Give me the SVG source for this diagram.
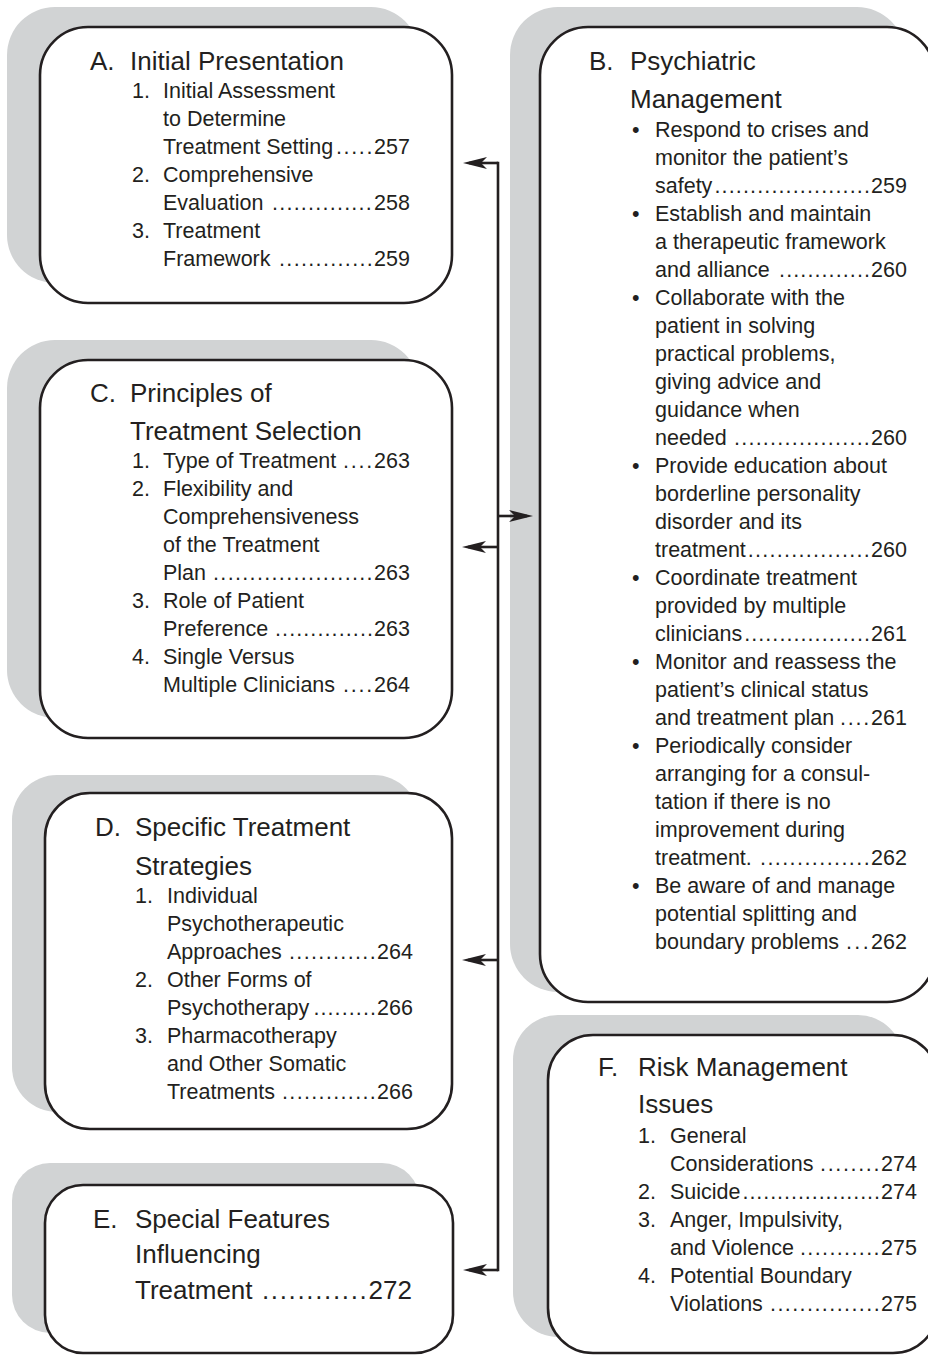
<svg xmlns="http://www.w3.org/2000/svg" width="928" height="1355" viewBox="0 0 928 1355">
<style>
.sh{fill:#d1d3d4}
.bx{fill:#ffffff;stroke:#231f20;stroke-width:2.6}
text{font-family:"Liberation Sans",Arial,sans-serif;fill:#231f20}
.h{font-size:26px}
.i{font-size:21.5px}
.d{letter-spacing:1.1px}
.de{letter-spacing:1.27px}
.cn{fill:none;stroke:#231f20;stroke-width:2.6}
</style>
<defs>
<marker id="ah" viewBox="0 0 24 12" refX="18" refY="6" markerWidth="24" markerHeight="12" markerUnits="userSpaceOnUse" orient="auto">
<path d="M0,0 L24,6 L0,12 L6,6 Z" fill="#231f20"/>
</marker>
</defs>
<rect width="928" height="1355" fill="#ffffff"/>

<g id="nodeA">
<rect class="sh" x="7" y="7" width="412" height="276" rx="48"/>
<rect class="bx" x="40" y="27" width="412" height="276" rx="48"/>
<text class="h" x="90" y="70">A.</text>
<text class="h" x="130" y="70">Initial Presentation</text>
<text class="i" x="132" y="98">1.</text>
<text class="i" x="163" y="98">Initial Assessment</text>
<text class="i" x="163" y="126">to Determine</text>
<text class="i" y="154"><tspan x="163">Treatment Setting</tspan><tspan class="d" x="335.9" style="letter-spacing:1.66px">.....</tspan><tspan x="374.1">257</tspan></text>
<text class="i" x="132" y="182">2.</text>
<text class="i" x="163" y="182">Comprehensive</text>
<text class="i" y="210"><tspan x="163">Evaluation</tspan><tspan class="d" x="272" style="letter-spacing:1.24px">..............</tspan><tspan x="374.1">258</tspan></text>
<text class="i" x="132" y="238">3.</text>
<text class="i" x="163" y="238">Treatment</text>
<text class="i" y="266"><tspan x="163">Framework</tspan><tspan class="d" x="279" style="letter-spacing:1.34px">.............</tspan><tspan x="374.1">259</tspan></text>
</g>

<g id="nodeB">
<rect class="sh" x="510" y="7" width="395" height="985" rx="48"/>
<rect class="bx" x="540" y="27" width="395" height="975" rx="48"/>
<text class="h" x="589" y="70">B.</text>
<text class="h" x="630" y="70">Psychiatric</text>
<text class="h" x="630" y="108">Management</text>
<text class="i" x="632" y="137">•</text>
<text class="i" x="655" y="137">Respond to crises and</text>
<text class="i" x="655" y="165">monitor the patient’s</text>
<text class="i" y="193"><tspan x="655">safety</tspan><tspan class="d" x="714.4" style="letter-spacing:1.15px">......................</tspan><tspan x="871.1">259</tspan></text>
<text class="i" x="632" y="221">•</text>
<text class="i" x="655" y="221">Establish and maintain</text>
<text class="i" x="655" y="249">a therapeutic framework</text>
<text class="i" y="277"><tspan x="655">and alliance</tspan><tspan class="d" x="779.1">.............</tspan><tspan x="871.1">260</tspan></text>
<text class="i" x="632" y="305">•</text>
<text class="i" x="655" y="305">Collaborate with the</text>
<text class="i" x="655" y="333">patient in solving</text>
<text class="i" x="655" y="361">practical problems,</text>
<text class="i" x="655" y="389">giving advice and</text>
<text class="i" x="655" y="417">guidance when</text>
<text class="i" y="445"><tspan x="655">needed</tspan><tspan class="d" x="734" style="letter-spacing:1.24px">...................</tspan><tspan x="871.1">260</tspan></text>
<text class="i" x="632" y="473">•</text>
<text class="i" x="655" y="473">Provide education about</text>
<text class="i" x="655" y="501">borderline personality</text>
<text class="i" x="655" y="529">disorder and its</text>
<text class="i" y="557"><tspan x="655">treatment</tspan><tspan class="d" x="747.8" style="letter-spacing:1.28px">.................</tspan><tspan x="871.1">260</tspan></text>
<text class="i" x="632" y="585">•</text>
<text class="i" x="655" y="585">Coordinate treatment</text>
<text class="i" x="655" y="613">provided by multiple</text>
<text class="i" y="641"><tspan x="655">clinicians</tspan><tspan class="d" x="744.2" style="letter-spacing:1.07px">..................</tspan><tspan x="871.1">261</tspan></text>
<text class="i" x="632" y="669">•</text>
<text class="i" x="655" y="669">Monitor and reassess the</text>
<text class="i" x="655" y="697">patient’s clinical status</text>
<text class="i" y="725"><tspan x="655">and treatment plan</tspan><tspan class="d" x="840" style="letter-spacing:1.8px">....</tspan><tspan x="871.1">261</tspan></text>
<text class="i" x="632" y="753">•</text>
<text class="i" x="655" y="753">Periodically consider</text>
<text class="i" x="655" y="781">arranging for a consul-</text>
<text class="i" x="655" y="809">tation if there is no</text>
<text class="i" x="655" y="837">improvement during</text>
<text class="i" y="865"><tspan x="655">treatment.</tspan><tspan class="d" x="760" style="letter-spacing:1.43px">...............</tspan><tspan x="871.1">262</tspan></text>
<text class="i" x="632" y="893">•</text>
<text class="i" x="655" y="893">Be aware of and manage</text>
<text class="i" x="655" y="921">potential splitting and</text>
<text class="i" y="949"><tspan x="655">boundary problems</tspan><tspan class="d" x="846" style="letter-spacing:2.4px">...</tspan><tspan x="871.1">262</tspan></text>
</g>

<g id="nodeC">
<rect class="sh" x="7" y="340" width="412" height="378" rx="48"/>
<rect class="bx" x="40" y="360" width="412" height="378" rx="48"/>
<text class="h" x="90" y="402">C.</text>
<text class="h" x="130" y="402">Principles of</text>
<text class="h" x="130" y="440">Treatment Selection</text>
<text class="i" x="132" y="468">1.</text>
<text class="i" y="468"><tspan x="163">Type of Treatment</tspan><tspan class="d" x="343" style="letter-spacing:1.8px">....</tspan><tspan x="374.1">263</tspan></text>
<text class="i" x="132" y="496">2.</text>
<text class="i" x="163" y="496">Flexibility and</text>
<text class="i" x="163" y="524">Comprehensiveness</text>
<text class="i" x="163" y="552">of the Treatment</text>
<text class="i" y="580"><tspan x="163">Plan</tspan><tspan class="d" x="213" style="letter-spacing:1.34px">......................</tspan><tspan x="374.1">263</tspan></text>
<text class="i" x="132" y="608">3.</text>
<text class="i" x="163" y="608">Role of Patient</text>
<text class="i" y="636"><tspan x="163">Preference</tspan><tspan class="d" x="275">..............</tspan><tspan x="374.1">263</tspan></text>
<text class="i" x="132" y="664">4.</text>
<text class="i" x="163" y="664">Single Versus</text>
<text class="i" y="692"><tspan x="163">Multiple Clinicians</tspan><tspan class="d" x="343" style="letter-spacing:1.8px">....</tspan><tspan x="374.1">264</tspan></text>
</g>

<g id="nodeD">
<rect class="sh" x="12" y="775" width="407" height="337" rx="45"/>
<rect class="bx" x="45" y="793" width="407" height="336" rx="45"/>
<text class="h" x="95" y="836">D.</text>
<text class="h" x="135" y="836">Specific Treatment</text>
<text class="h" x="135" y="875">Strategies</text>
<text class="i" x="135" y="903">1.</text>
<text class="i" x="167" y="903">Individual</text>
<text class="i" x="167" y="931">Psychotherapeutic</text>
<text class="i" y="959"><tspan x="167">Approaches</tspan><tspan class="d" x="289" style="letter-spacing:1.36px">............</tspan><tspan x="377.1">264</tspan></text>
<text class="i" x="135" y="987">2.</text>
<text class="i" x="167" y="987">Other Forms of</text>
<text class="i" y="1015"><tspan x="167">Psychotherapy</tspan><tspan class="d" x="313.4">.........</tspan><tspan x="377.1">266</tspan></text>
<text class="i" x="135" y="1043">3.</text>
<text class="i" x="167" y="1043">Pharmacotherapy</text>
<text class="i" x="167" y="1071">and Other Somatic</text>
<text class="i" y="1099"><tspan x="167">Treatments</tspan><tspan class="d" x="282" style="letter-spacing:1.34px">.............</tspan><tspan x="377.1">266</tspan></text>
</g>

<g id="nodeE">
<rect class="sh" x="12" y="1163" width="408" height="170" rx="38"/>
<rect class="bx" x="45" y="1185" width="408" height="168" rx="38"/>
<text class="h" x="93" y="1228">E.</text>
<text class="h" x="135" y="1228">Special Features</text>
<text class="h" x="135" y="1263">Influencing</text>
<text class="h" y="1299"><tspan x="135">Treatment</tspan><tspan class="de" x="262" style="letter-spacing:1.65px">............</tspan><tspan x="368.6">272</tspan></text>
</g>

<g id="nodeF">
<rect class="sh" x="513" y="1015" width="390" height="322" rx="45"/>
<rect class="bx" x="548" y="1035" width="390" height="318" rx="45"/>
<text class="h" x="598" y="1076">F.</text>
<text class="h" x="638" y="1076">Risk Management</text>
<text class="h" x="638" y="1113">Issues</text>
<text class="i" x="638" y="1143">1.</text>
<text class="i" x="670" y="1143">General</text>
<text class="i" y="1171"><tspan x="670">Considerations</tspan><tspan class="d" x="820" style="letter-spacing:1.66px">........</tspan><tspan x="881.1">274</tspan></text>
<text class="i" x="638" y="1199">2.</text>
<text class="i" y="1199"><tspan x="670">Suicide</tspan><tspan class="d" x="742.5" style="letter-spacing:0.95px">....................</tspan><tspan x="881.1">274</tspan></text>
<text class="i" x="638" y="1227">3.</text>
<text class="i" x="670" y="1227">Anger, Impulsivity,</text>
<text class="i" y="1255"><tspan x="670">and Violence</tspan><tspan class="d" x="800" style="letter-spacing:1.38px">...........</tspan><tspan x="881.1">275</tspan></text>
<text class="i" x="638" y="1283">4.</text>
<text class="i" x="670" y="1283">Potential Boundary</text>
<text class="i" y="1311"><tspan x="670">Violations</tspan><tspan class="d" x="770" style="letter-spacing:1.43px">...............</tspan><tspan x="881.1">275</tspan></text>
</g>

<g id="connectors">
<path class="cn" d="M498,161.7 V1271.3"/>
<path class="cn" d="M498,163 H469" marker-end="url(#ah)"/>
<path class="cn" d="M498,547 H468" marker-end="url(#ah)"/>
<path class="cn" d="M498,960 H468" marker-end="url(#ah)"/>
<path class="cn" d="M498,1270 H469" marker-end="url(#ah)"/>
<path class="cn" d="M498,516 H527" marker-end="url(#ah)"/>
</g>
</svg>
